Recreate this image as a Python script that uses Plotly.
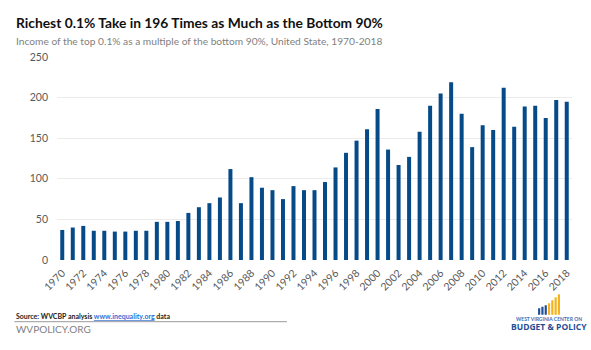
import plotly.graph_objects as go

years = list(range(1970, 2019))
ratio = [37, 40, 42, 36, 36, 35, 35, 36, 36, 47,
         47, 48, 58, 65, 70, 77, 112, 70, 102, 89,
         86, 75, 91, 86, 86, 96, 114, 132, 147, 161,
         186, 136, 117, 127, 158, 190, 205, 219, 180, 139,
         166, 160, 212, 164, 189, 190, 175, 197, 195]
x_ticks = list(range(1970, 2019, 2))
y_ticks = [0, 50, 100, 150, 200, 250]

BAR = "#064a87"
FONT = "Lato, 'Open Sans', sans-serif"

fig = go.Figure(go.Bar(x=years, y=ratio, marker=dict(color=BAR, line=dict(width=0))))

W, H = 591, 350
ml, mr, mt, mb = 56.7, 18.5, 56.5, 89.5
pw, ph = W - ml - mr, H - mt - mb

def px(x):
    return (x - ml) / pw

def py(y):
    return (H - mb - y) / ph

fig.update_layout(
    width=W, height=H,
    margin=dict(l=ml, r=mr, t=mt, b=mb),
    paper_bgcolor="white", plot_bgcolor="white",
    bargap=0.62,
    showlegend=False,
    font=dict(family=FONT, color="#595959", size=11),
    xaxis=dict(range=[1969.5, 2018.5], tickmode="array", tickvals=x_ticks,
               ticktext=[str(t) for t in x_ticks], tickangle=-45,
               showgrid=False, zeroline=False, showline=False, ticks="",
               ticklabelstandoff=4,
               tickfont=dict(size=10.5, color="#595959")),
    yaxis=dict(range=[0, 250], tickmode="array", tickvals=y_ticks,
               showgrid=True, gridcolor="#ebebeb", gridwidth=1, zeroline=False,
               showline=False, ticks="", ticklabelstandoff=8,
               tickfont=dict(size=10.5, color="#595959")),
)

ann = []
ann.append(dict(x=px(14), y=py(22), xref="paper", yref="paper", xanchor="left", yanchor="middle",
                text="<b>Richest 0.1% Take in 196 Times as Much as the Bottom 90%</b>",
                showarrow=False, font=dict(family=FONT, size=13.8, color="#111111")))
ann.append(dict(x=px(14), y=py(40.5), xref="paper", yref="paper", xanchor="left", yanchor="middle",
                text="Income of the top 0.1% as a multiple of the bottom 90%, United State, 1970-2018",
                showarrow=False, font=dict(family=FONT, size=10.2, color="#7f7f7f")))
ann.append(dict(x=px(14), y=py(317), xref="paper", yref="paper", xanchor="left", yanchor="middle",
                text="<b>Source: WVCBP analysis <span style='color:#2f6fd6'><u>www.inequality.org</u></span> data</b>",
                showarrow=False, font=dict(family=FONT, size=7, color="#222222")))
ann.append(dict(x=px(14), y=py(329.5), xref="paper", yref="paper", xanchor="left", yanchor="middle",
                text="WVPOLICY.ORG",
                showarrow=False, font=dict(family=FONT, size=10, color="#7f7f7f")))
ann.append(dict(x=px(549), y=py(320), xref="paper", yref="paper", xanchor="center", yanchor="middle",
                text="<b>WEST VIRGINIA CENTER ON</b>",
                showarrow=False, font=dict(family=FONT, size=5, color="#3d6fb5")))
ann.append(dict(x=px(549.5), y=py(327.5), xref="paper", yref="paper", xanchor="center", yanchor="middle",
                text="<b>BUDGET &amp; POLICY</b>",
                showarrow=False, font=dict(family="'Open Sans', sans-serif", size=8.5, color="#1f4e96")))
fig.update_layout(annotations=ann)

shapes = []
shapes.append(dict(type="line", xref="paper", yref="paper", x0=px(14), x1=px(287), y0=py(322.5), y1=py(322.5),
                   line=dict(color="#9a9a9a", width=1)))
# logo bars
logo = [(538.5, 309, "#1f4e96"), (541.8, 307.5, "#1f4e96"), (545.1, 306, "#1f4e96"),
        (548.4, 304, "#f5b21b"), (551.7, 301, "#f5b21b"), (555.0, 298, "#f5b21b"), (558.3, 295, "#f5b21b")]
for x0, top, c in logo:
    shapes.append(dict(type="rect", xref="paper", yref="paper", x0=px(x0), x1=px(x0 + 2.2),
                       y0=py(315.5), y1=py(top), fillcolor=c, line=dict(width=0)))
fig.update_layout(shapes=shapes)

fig.write_html("out.html")
